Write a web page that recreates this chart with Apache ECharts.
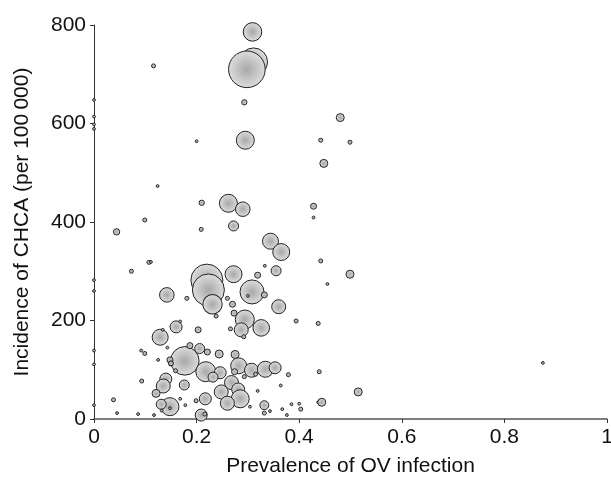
<!DOCTYPE html>
<html>
<head>
<meta charset="utf-8">
<script src="https://cdn.jsdelivr.net/npm/echarts@6/dist/echarts.min.js"></script>
<style>
  html, body { margin: 0; padding: 0; background: #fff; }
  #chart { width: 611px; height: 480px; }
</style>
</head>
<body>
<div id="chart"></div>
<script>
// prevalence of OV infection (x), incidence per 100 000 (y), study weight (bubble area)
var prevalence = [
  0, 0, 0, 0, 0, 0, 0, 0, 0,
  0.309, 0.311, 0.298, 0.293, 0.295, 0.116, 0.200, 0.124, 0.210, 0.262, 0.290,
  0.480, 0.442, 0.499, 0.448, 0.428, 0.428, 0.099, 0.044, 0.209, 0.272,
  0.344, 0.365, 0.107, 0.111, 0.073, 0.333, 0.355, 0.272, 0.319, 0.220,
  0.223, 0.231, 0.308, 0.332, 0.300, 0.142, 0.181, 0.260, 0.270, 0.360,
  0.238, 0.273, 0.294, 0.326, 0.287, 0.292, 0.266, 0.203, 0.160, 0.168,
  0.129, 0.134, 0.143, 0.177, 0.187, 0.206, 0.221, 0.244, 0.275, 0.092,
  0.099, 0.125, 0.148, 0.150, 0.218, 0.246, 0.232, 0.159, 0.282, 0.307,
  0.334, 0.353, 0.274, 0.293, 0.315, 0.379, 0.439, 0.093, 0.140, 0.135,
  0.121, 0.176, 0.268, 0.248, 0.281, 0.285, 0.260, 0.217, 0.199, 0.148,
  0.131, 0.132, 0.148, 0.168, 0.178, 0.038, 0.045, 0.086, 0.117, 0.209,
  0.216, 0.332, 0.332, 0.343, 0.319, 0.364, 0.304, 0.367, 0.376, 0.385,
  0.400, 0.403, 0.437, 0.444, 0.515, 0.442, 0.499, 0.455, 0.394, 0.437,
  0.875
];
var incidence = [
  648, 614, 598, 589, 282, 260, 139, 111, 28,
  786, 725, 710, 643, 566, 717, 564, 473, 439, 438, 426,
  612, 566, 562, 519, 432, 409, 404, 380, 385, 392,
  361, 339, 318, 319, 300, 311, 301, 294, 292, 282,
  262, 233, 258, 252, 250, 252, 245, 245, 233, 228,
  209, 215, 202, 185, 181, 167, 183, 181, 187, 198,
  166, 181, 145, 118, 149, 143, 136, 132, 131, 139,
  133, 120, 120, 113, 96, 94, 85, 98, 108, 99,
  101, 104, 96, 86, 91, 90, 96, 77, 81, 67,
  52, 69, 74, 55, 60, 41, 32, 41, 37, 25,
  30, 17, 22, 41, 28, 39, 12, 10, 8, 8,
  10, 28, 12, 16, 57, 68, 25, 20, 8, 30,
  31, 20, 34, 34, 55, 321, 294, 274, 199, 194,
  114
];
var weight = [
  2, 2, 2, 2, 2, 2, 2, 2, 2,
  86, 196, 335, 7, 81, 4, 2, 2, 7, 81, 53,
  16, 4, 4, 16, 9, 2, 4, 10, 4, 25,
  64, 72, 4, 2, 4, 2, 25, 72, 9, 256,
  256, 94, 144, 9, 2, 53, 4, 4, 9, 49,
  4, 9, 90, 69, 49, 4, 4, 9, 36, 2,
  64, 2, 2, 204, 9, 25, 9, 16, 16, 2,
  4, 2, 9, 6, 100, 36, 25, 4, 64, 49,
  64, 36, 9, 4, 4, 4, 4, 4, 36, 49,
  16, 25, 49, 49, 42, 81, 49, 36, 4, 81,
  25, 2, 2, 2, 2, 4, 2, 2, 2, 36,
  4, 20, 4, 2, 2, 2, 2, 2, 2, 2,
  2, 4, 2, 16, 16, 4, 16, 2, 4, 4,
  2
];
var xTicks = ['0', '0.2', '0.4', '0.6', '0.8', '1'];

var points = prevalence.map(function (x, i) {
  return [x, incidence[i], weight[i]];
});

var fontFamily = '"Liberation Sans", Arial, sans-serif';

var option = {
  animation: false,
  backgroundColor: '#fff',
  grid: { left: 94, right: 4, top: 25, bottom: 61, containLabel: false, outerBoundsMode: 'none' },
  xAxis: {
    type: 'value',
    min: 0,
    max: 1,
    interval: 0.2,
    name: 'Prevalence of OV infection',
    nameLocation: 'middle',
    nameGap: 37,
    nameTextStyle: { fontFamily: fontFamily, fontSize: 21, color: '#111' },
    axisLine: { lineStyle: { color: '#555', width: 1.5 } },
    axisTick: { inside: false, length: 4, lineStyle: { color: '#333' } },
    axisLabel: {
      margin: 8,
      fontFamily: fontFamily,
      fontSize: 21,
      color: '#111',
      formatter: function (v) { return xTicks[Math.round(v / 0.2)]; }
    },
    splitLine: { show: false }
  },
  yAxis: {
    type: 'value',
    min: 0,
    max: 800,
    interval: 200,
    name: 'Incidence of CHCA (per 100\u2009000)',
    nameLocation: 'middle',
    nameGap: 61,
    nameTextStyle: { fontFamily: fontFamily, fontSize: 21, color: '#111' },
    axisLine: { show: true, lineStyle: { color: '#333', width: 1 } },
    axisTick: { show: true, inside: false, length: 4, lineStyle: { color: '#333' } },
    axisLabel: { margin: 8, fontFamily: fontFamily, fontSize: 21, color: '#111' },
    splitLine: { show: false }
  },
  series: [{
    type: 'scatter',
    data: points,
    symbolSize: function (d) { return 2 * Math.sqrt(d[2]); },
    itemStyle: {
      opacity: 1,
      borderColor: '#222',
      borderWidth: 1,
      color: {
        type: 'radial', x: 0.5, y: 0.5, r: 0.5,
        colorStops: [
          { offset: 0, color: '#a8a8a8' },
          { offset: 1, color: '#dedede' }
        ]
      }
    }
  }]
};

var chart = echarts.init(document.getElementById('chart'));
chart.setOption(option);
</script>
</body>
</html>
